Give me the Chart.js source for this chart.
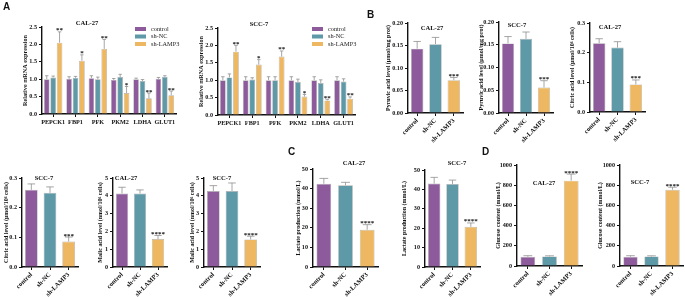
<!DOCTYPE html>
<html>
<head>
<meta charset="utf-8">
<script src="https://cdn.jsdelivr.net/npm/chart.js@4.4.0/dist/chart.umd.min.js"></script>
<style>
  body { margin: 0; background: #fff; }
  #fig { position: relative; width: 685px; height: 297px; overflow: hidden; background: #fff; }
  #fig canvas { position: absolute; }
  .lbl { position: absolute; font: bold 10px "Liberation Sans", Arial, sans-serif; color: #111; line-height: 1; }
  .ttl { position: absolute; font: bold 6.6px "Liberation Serif", serif; color: #111; white-space: nowrap; transform: translate(-50%, -50%); line-height: 1; }
</style>
</head>
<body>
<div id="fig"></div>
<script>
// ---- data ----
const groups = ["control", "sh-NC", "sh-LAMP3"];
const genes = ["PEPCK1", "FBP1", "PFK", "PKM2", "LDHA", "GLUT1"];
const colors = ["#8d5a9c", "#5e99a7", "#eeb862"];

// A: relative mRNA, CAL-27
const mrnaCalControl = [1.00, 1.01, 1.03, 0.98, 1.00, 1.01];
const mrnaCalNC      = [1.05, 1.04, 1.00, 1.06, 0.95, 1.07];
const mrnaCalLamp    = [2.05, 1.53, 1.87, 0.60, 0.45, 0.54];
const mrnaCalControlErr = [0.10, 0.06, 0.07, 0.04, 0.03, 0.04];
const mrnaCalNCErr      = [0.04, 0.04, 0.06, 0.08, 0.04, 0.03];
const mrnaCalLampErr    = [0.31, 0.17, 0.27, 0.19, 0.15, 0.12];
const mrnaCalSig = ["**", "*", "**", "*", "**", "**"];

// A: relative mRNA, SCC-7
const mrnaSccControl = [1.00, 1.00, 1.00, 1.00, 1.00, 1.00];
const mrnaSccNC      = [1.08, 1.02, 1.00, 0.95, 0.92, 0.96];
const mrnaSccLamp    = [1.82, 1.45, 1.68, 0.53, 0.42, 0.47];
const mrnaSccControlErr = [0.10, 0.10, 0.10, 0.10, 0.10, 0.10];
const mrnaSccNCErr      = [0.10, 0.05, 0.10, 0.08, 0.09, 0.08];
const mrnaSccLampErr    = [0.18, 0.14, 0.16, 0.06, 0.03, 0.05];
const mrnaSccSig = ["**", "*", "**", "*", "**", "**"];

// B-D: control, sh-NC, sh-LAMP3
const pyruvicCal = [0.143, 0.153, 0.073], pyruvicCalErr = [0.016, 0.015, 0.006];
const pyruvicScc = [0.153, 0.163, 0.056], pyruvicSccErr = [0.015, 0.015, 0.015];
const citricCal  = [0.232, 0.217, 0.093], citricCalErr  = [0.015, 0.020, 0.015];
const citricScc  = [0.260, 0.250, 0.086], citricSccErr  = [0.020, 0.020, 0.015];
const malicCal   = [4.13, 4.13, 1.57],    malicCalErr   = [0.35, 0.20, 0.20];
const malicScc   = [4.27, 4.27, 1.55],    malicSccErr   = [0.30, 0.45, 0.18];
const lactateCal = [42.5, 41.7, 19.0],    lactateCalErr = [2.7, 1.5, 2.6];
const lactateScc = [43.0, 42.8, 20.7],    lactateSccErr = [3.2, 2.0, 2.0];
const glucoseCal = [92, 95, 845],         glucoseCalErr = [10, 6, 65];
const glucoseScc = [92, 95, 755],         glucoseSccErr = [10, 6, 25];

const fig = document.getElementById("fig");
const serif = '"Liberation Serif", "Times New Roman", serif';

// error bars, stars, y title, legend
const deco = {
  id: "deco",
  afterDatasetsDraw(chart, args, o) {
    const ctx = chart.ctx, ys = chart.scales.y, ca = chart.chartArea;
    ctx.save();
    chart.data.datasets.forEach((ds, i) => {
      chart.getDatasetMeta(i).data.forEach((bar, j) => {
        const yt = ys.getPixelForValue(ds.data[j] + o.err[i][j]);
        const cw = bar.width * 0.3;
        ctx.strokeStyle = "#8f8f8f";
        ctx.lineWidth = 0.8;
        ctx.beginPath();
        ctx.moveTo(bar.x, bar.y); ctx.lineTo(bar.x, yt);
        ctx.moveTo(bar.x - cw, yt); ctx.lineTo(bar.x + cw, yt);
        ctx.stroke();
        const s = o.stars[i] ? o.stars[i][j] : "";
        if (s) {
          ctx.fillStyle = "#111";
          ctx.font = "bold 7px " + serif;
          ctx.textAlign = "center";
          ctx.textBaseline = "alphabetic";
          ctx.fillText(s, bar.x, yt + 0.5);
        }
      });
    });
    ctx.translate(o.titleX, (ca.top + ca.bottom) / 2);
    ctx.rotate(-Math.PI / 2);
    ctx.fillStyle = "#111";
    ctx.font = "bold " + o.titleSize + "px " + serif;
    ctx.textAlign = "center";
    ctx.textBaseline = "middle";
    ctx.fillText(o.title, 0, 0);
    ctx.restore();
    if (o.legend) {
      ctx.save();
      chart.data.datasets.forEach((ds, i) => {
        const y = o.legend[1] + i * 7.5;
        ctx.fillStyle = ds.backgroundColor;
        ctx.fillRect(o.legend[0], y - 2, 11, 4);
        ctx.fillStyle = "#222";
        ctx.font = "6.3px " + serif;
        ctx.textBaseline = "middle";
        ctx.fillText(ds.label, o.legend[0] + 16, y);
      });
      ctx.restore();
    }
  }
};

function panel(p) {
  const YW = 30, TP = 14, RP = 4;
  const left = p.axis - YW, top = p.top - TP;
  const w = p.right - left + RP, h = p.bottom + p.xh - top;
  const cv = document.createElement("canvas");
  cv.width = w; cv.height = h;
  cv.style.left = left + "px"; cv.style.top = top + "px";
  cv.style.width = w + "px"; cv.style.height = h + "px";
  fig.appendChild(cv);

  const multi = p.series.length > 1;
  const datasets = p.series.map((s, i) => ({
    label: multi ? groups[i] : p.name,
    data: s,
    backgroundColor: multi ? colors[i] : colors,
    borderColor: "#b0b0b0",
    borderWidth: 0.7,
    categoryPercentage: multi ? 0.86 : 0.74,
    barPercentage: multi ? 0.88 : 0.92
  }));
  const legendPos = p.legend ? [p.legend[0] - left, p.legend[1] - top] : null;

  new Chart(cv, {
    type: "bar",
    data: { labels: p.labels, datasets },
    options: {
      responsive: false,
      devicePixelRatio: 1,
      animation: false,
      layout: { padding: { left: 0, top: TP, right: RP, bottom: 0 } },
      plugins: {
        legend: { display: false },
        tooltip: { enabled: false },
        deco: {
          err: p.errs, stars: p.stars, title: p.title, titleSize: p.ts || 6,
          titleX: p.yt - left, legend: legendPos
        }
      },
      scales: {
        x: {
          afterFit: s => { s.height = p.xh; },
          border: { color: "#111", width: 1.4 },
          grid: { offset: false, drawOnChartArea: false, tickLength: 3, color: "#111", lineWidth: 1 },
          ticks: {
            color: "#111", font: { family: serif, size: multi ? 6.2 : 6.5, weight: "bold" },
            autoSkip: false, padding: multi ? 2 : 1,
            minRotation: multi ? 0 : 45, maxRotation: multi ? 0 : 45
          }
        },
        y: {
          min: 0, max: p.max,
          afterFit: s => { s.width = YW; },
          border: { color: "#111", width: 1.4 },
          grid: { drawOnChartArea: false, tickLength: 3, color: "#111", lineWidth: 1 },
          ticks: {
            stepSize: p.step, padding: 2, color: "#111",
            font: { family: serif, size: 6.2, weight: "bold" },
            callback: v => v.toFixed(p.dec)
          }
        }
      }
    },
    plugins: [deco]
  });

  const t = document.createElement("div");
  t.className = "ttl";
  t.textContent = p.name;
  t.style.left = p.nx + "px"; t.style.top = p.ny + "px";
  fig.appendChild(t);
}

const single = (vals, err, sig) => ({ labels: groups, series: [vals], errs: [err], stars: [["", "", sig]], xh: 34 });

const panels = [
  { labels: genes, series: [mrnaCalControl, mrnaCalNC, mrnaCalLamp],
    errs: [mrnaCalControlErr, mrnaCalNCErr, mrnaCalLampErr], stars: [null, null, mrnaCalSig], xh: 16,
    axis: 42, top: 27, right: 176, bottom: 114, yt: 25, max: 2.5, step: 0.5, dec: 1, ts: 6.2,
    title: "Relative mRNA expression", name: "CAL-27", nx: 87, ny: 23, legend: [135, 29] },
  { labels: genes, series: [mrnaSccControl, mrnaSccNC, mrnaSccLamp],
    errs: [mrnaSccControlErr, mrnaSccNCErr, mrnaSccLampErr], stars: [null, null, mrnaSccSig], xh: 16,
    axis: 218, top: 28, right: 355, bottom: 115, yt: 201, max: 2.5, step: 0.5, dec: 1, ts: 6.2,
    title: "Relative mRNA expression", name: "SCC-7", nx: 259, ny: 24, legend: [312, 29] },
  Object.assign(single(pyruvicCal, pyruvicCalErr, "***"), { axis: 408, top: 23, right: 463, bottom: 113, yt: 388,
    max: 0.2, step: 0.05, dec: 2, title: "Pyruvic acid level (\u03bcmol/mg prot)", name: "CAL-27", nx: 432, ny: 28 }),
  Object.assign(single(pyruvicScc, pyruvicSccErr, "***"), { axis: 499, top: 22, right: 553, bottom: 113, yt: 481,
    max: 0.2, step: 0.05, dec: 2, title: "Pyruvic acid level (\u03bcmol/mg prot)", name: "SCC-7", nx: 517, ny: 25 }),
  Object.assign(single(citricCal, citricCalErr, "***"), { axis: 590, top: 23, right: 645, bottom: 112, yt: 572,
    max: 0.3, step: 0.1, dec: 1, title: "Citric acid level (\u03bcmol/10\u2076 cells)", name: "CAL-27", nx: 610, ny: 27 }),
  Object.assign(single(citricScc, citricSccErr, "***"), { axis: 22, top: 178, right: 78, bottom: 267, yt: 6,
    max: 0.3, step: 0.1, dec: 1, title: "Citric acid level (\u03bcmol/10\u2076 cells)", name: "SCC-7", nx: 44, ny: 178 }),
  Object.assign(single(malicCal, malicCalErr, "****"), { axis: 113, top: 178, right: 167, bottom: 267, yt: 100,
    max: 5, step: 1, dec: 0, title: "Malic acid level (nmol/10\u2076 cells)", name: "CAL-27", nx: 126, ny: 178 }),
  Object.assign(single(malicScc, malicSccErr, "****"), { axis: 204, top: 178, right: 260, bottom: 267, yt: 192,
    max: 5, step: 1, dec: 0, title: "Malic acid level (nmol/10\u2076 cells)", name: "SCC-7", nx: 222, ny: 178 }),
  Object.assign(single(lactateCal, lactateCalErr, "****"), { axis: 313, top: 169, right: 378, bottom: 267, yt: 298,
    max: 50, step: 10, dec: 0, title: "Lactate production (mmol/L)", name: "CAL-27", nx: 354, ny: 163 }),
  Object.assign(single(lactateScc, lactateSccErr, "****"), { axis: 425, top: 170, right: 480, bottom: 267, yt: 404,
    max: 50, step: 10, dec: 0, title: "Lactate production (mmol/L)", name: "SCC-7", nx: 457, ny: 163 }),
  Object.assign(single(glucoseCal, glucoseCalErr, "****"), { axis: 517, top: 165, right: 582, bottom: 266, yt: 498,
    max: 1000, step: 200, dec: 0, title: "Glucose content (mmol/L)", name: "CAL-27", nx: 544, ny: 183 }),
  Object.assign(single(glucoseScc, glucoseSccErr, "****"), { axis: 620, top: 165, right: 683, bottom: 266, yt: 600,
    max: 1000, step: 200, dec: 0, title: "Glucose content (mmol/L)", name: "SCC-7", nx: 640, ny: 182 })
];
panels.forEach(panel);

[["A", 3, 2], ["B", 367, 10], ["C", 288, 147], ["D", 482, 147]].forEach(([s, x, y]) => {
  const d = document.createElement("div");
  d.className = "lbl";
  d.textContent = s;
  d.style.left = x + "px"; d.style.top = y + "px";
  fig.appendChild(d);
});
</script>
</body>
</html>
